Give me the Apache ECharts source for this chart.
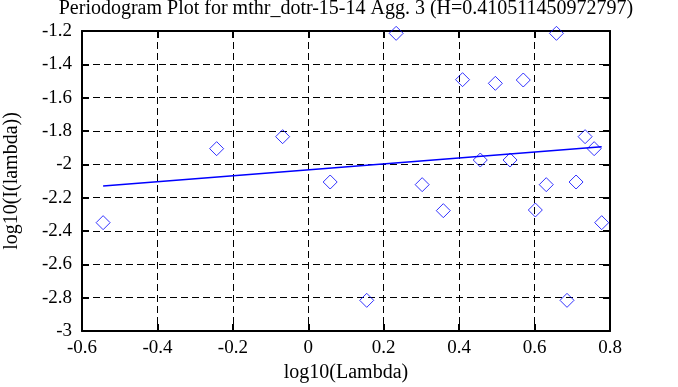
<!DOCTYPE html>
<html><head><meta charset="utf-8">
<script src="https://cdn.jsdelivr.net/npm/echarts@6/dist/echarts.min.js"></script>
<style>html,body{margin:0;padding:0;background:#fff}#c{width:678px;height:387px}</style>
</head><body><div id="c"></div>
<script>
var titleText = 'Periodogram Plot for mthr_dotr-15-14 Agg. 3 (H=0.410511450972797)';
var xName = 'log10(Lambda)';
var yName = 'log10(I(lambda))';
var logLambda = [-0.544, -0.243, -0.068, 0.058, 0.155, 0.233, 0.302, 0.358, 0.409, 0.456, 0.496, 0.535, 0.570, 0.602, 0.631, 0.658, 0.686, 0.710, 0.734, 0.758, 0.778];
var logI = [-2.35, -1.906, -1.834, -2.106, -2.816, -1.214, -2.122, -2.278, -1.492, -1.974, -1.514, -1.974, -1.494, -2.274, -2.122, -1.214, -2.816, -2.106, -1.834, -1.906, -2.35];
var fitX = [-0.544, 0.778];
var fitY = [-2.130, -1.894];

var font = 'Liberation Serif';
var chart = echarts.init(document.getElementById('c'), null, {renderer:'canvas'});
var pts = logLambda.map(function(x,i){return [x, logI[i]];});
var fit = fitX.map(function(x,i){return [x, fitY[i]];});
var gridLine = {show:true, lineStyle:{color:'#000', width:1, type:[7,4]}};
var fmt = function(v){ return String(Math.round(v*10)/10); };
chart.setOption({
  animation:false,
  backgroundColor:'#fff',
  graphic:[{type:'text', x:346, y:-1, style:{text:titleText, textAlign:'center', textVerticalAlign:'top', font:'20px "Liberation Serif"', fill:'#000'}}],
  grid:{left:82, right:68, top:31, bottom:56, containLabel:false, outerBoundsMode:'none'},
  xAxis:[{type:'value', min:-0.6, max:0.8, interval:0.2, name:xName, nameLocation:'middle', nameGap:30,
    nameTextStyle:{fontFamily:font, fontSize:20, color:'#000'},
    axisLine:{show:true, onZero:false, lineStyle:{color:'#000', width:2}},
    axisTick:{show:true, inside:true, length:7, lineStyle:{color:'#000', width:2}},
    axisLabel:{fontFamily:font, fontSize:19, color:'#000', margin:8, formatter:fmt},
    splitLine:gridLine},
    {type:'value', position:'top', min:-0.6, max:0.8, interval:0.2,
    axisLine:{show:true, onZero:false, lineStyle:{color:'#000', width:2}},
    axisTick:{show:true, inside:true, length:7, lineStyle:{color:'#000', width:2}},
    axisLabel:{show:false}, splitLine:{show:false}}],
  yAxis:[{type:'value', min:-3, max:-1.2, interval:0.2, name:yName, nameLocation:'middle', nameGap:60,
    nameTextStyle:{fontFamily:font, fontSize:20, color:'#000'},
    axisLine:{show:true, onZero:false, lineStyle:{color:'#000', width:2}},
    axisTick:{show:true, inside:true, length:7, lineStyle:{color:'#000', width:2}},
    axisLabel:{fontFamily:font, fontSize:19, color:'#000', margin:10, formatter:fmt},
    splitLine:gridLine},
    {type:'value', position:'right', min:-3, max:-1.2, interval:0.2,
    axisLine:{show:true, onZero:false, lineStyle:{color:'#000', width:2}},
    axisTick:{show:true, inside:true, length:7, lineStyle:{color:'#000', width:2}},
    axisLabel:{show:false}, splitLine:{show:false}}],
  series:[
    {type:'scatter', data:pts, symbol:'diamond', symbolSize:[14,14], z:3,
     itemStyle:{color:'rgba(0,0,0,0)', borderColor:'#0000ff', borderWidth:1}},
    {type:'line', data:fit, showSymbol:false, symbol:'none', z:4,
     lineStyle:{color:'#0000ff', width:1.5}}
  ]
});
</script></body></html>
